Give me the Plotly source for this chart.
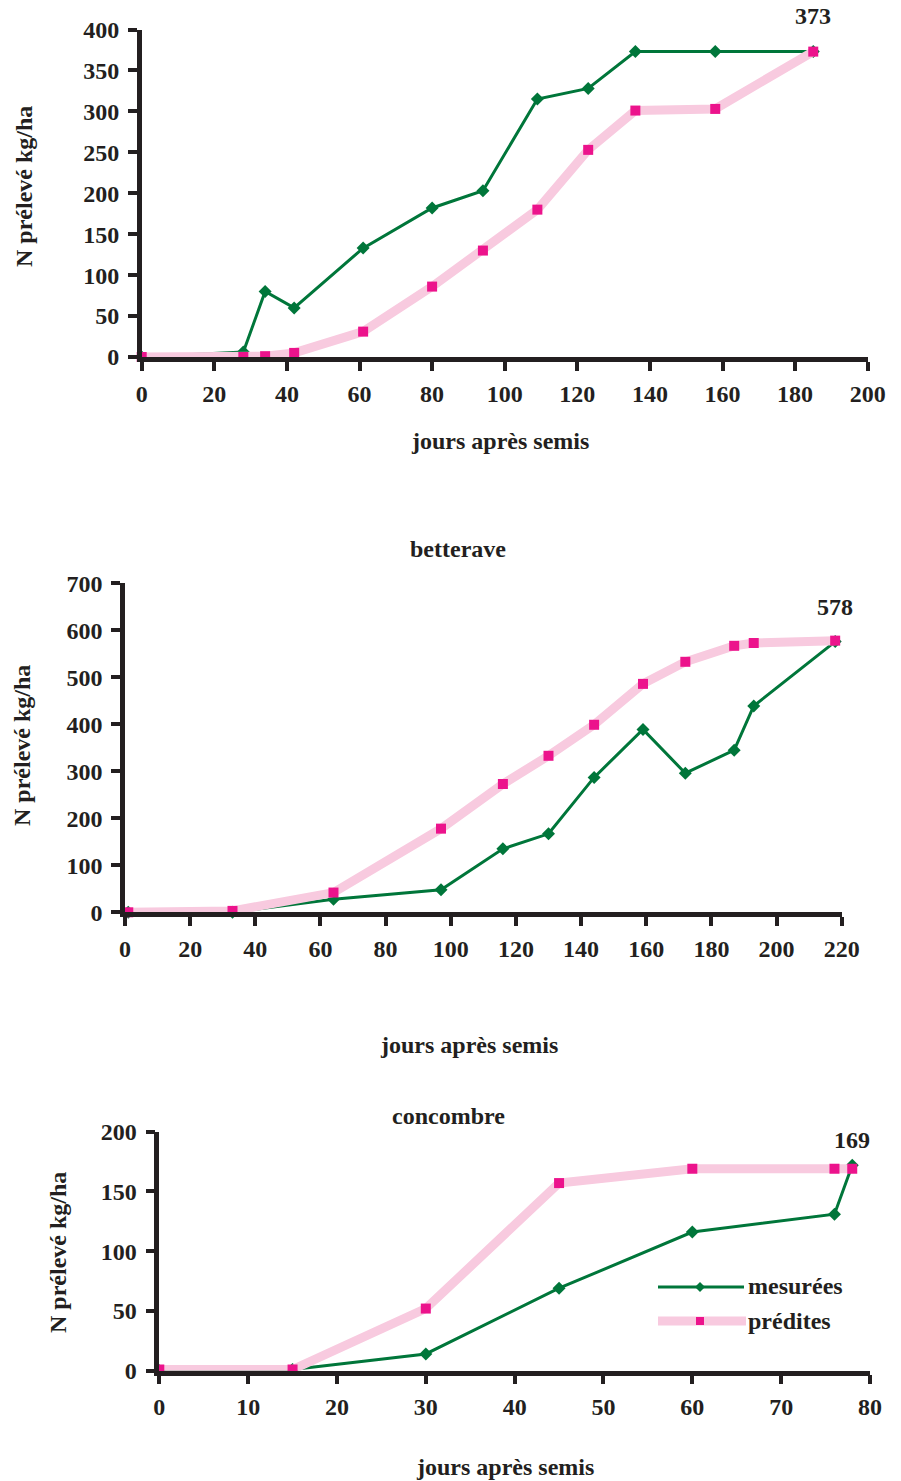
import plotly.graph_objects as go

# ---- data: N uptake (kg/ha) vs days after sowing ----
# panel 1 (untitled crop)
p1_mes_x = [0, 28, 34, 42, 61, 80, 94, 109, 123, 136, 158, 185]
p1_mes_y = [0, 6, 80, 60, 133, 182, 203, 315, 328, 373, 373, 373]
p1_pre_x = [0, 28, 34, 42, 61, 80, 94, 109, 123, 136, 158, 185]
p1_pre_y = [0, 0, 1, 5, 31, 86, 130, 180, 253, 301, 303, 373]

# betterave
bet_mes_x = [1, 33, 64, 97, 116, 130, 144, 159, 172, 187, 193, 218]
bet_mes_y = [0, 0, 28, 48, 135, 167, 287, 389, 296, 345, 439, 576]
bet_pre_x = [1, 33, 64, 97, 116, 130, 144, 159, 172, 187, 193, 218]
bet_pre_y = [0, 3, 42, 178, 273, 333, 399, 486, 533, 567, 573, 578]

# concombre
con_mes_x = [0, 15, 30, 45, 60, 76, 78]
con_mes_y = [0, 1, 14, 69, 116, 131, 172]
con_pre_x = [0, 15, 30, 45, 60, 76, 78]
con_pre_y = [1, 1, 52, 157, 169, 169, 169]

# axis ticks
p1_xticks = list(range(0, 201, 20))
p1_yticks = list(range(0, 401, 50))
bet_xticks = list(range(0, 221, 20))
bet_yticks = list(range(0, 701, 100))
con_xticks = list(range(0, 81, 10))
con_yticks = list(range(0, 201, 50))

# ---- styling ----
W, H = 901, 1481
FONT = "Liberation Serif"
TXT = "#231F20"
GREEN = "#00763A"
PINK_LINE = "#F8CADF"
PINK_MARK = "#EC138C"
FS = 24
BFONT = dict(family=FONT, size=FS, color=TXT, weight="bold")


def fx(p):
    return p / W


def fy(p):
    return 1 - p / H


fig = go.Figure()

panels = [
    dict(ax="", mx=p1_mes_x, my=p1_mes_y, px=p1_pre_x, py=p1_pre_y,
         xt=p1_xticks, yt=p1_yticks, xr=[0, 200], yr=[0, 400],
         dom_x=(141.7, 867.7), dom_y=(357, 29.5), lbl_shift=36),
    dict(ax="2", mx=bet_mes_x, my=bet_mes_y, px=bet_pre_x, py=bet_pre_y,
         xt=bet_xticks, yt=bet_yticks, xr=[0, 220], yr=[0, 700],
         dom_x=(125, 841.7), dom_y=(912.3, 583.3), lbl_shift=34),
    dict(ax="3", mx=con_mes_x, my=con_mes_y, px=con_pre_x, py=con_pre_y,
         xt=con_xticks, yt=con_yticks, xr=[0, 80], yr=[0, 200],
         dom_x=(159.3, 870), dom_y=(1370.7, 1131.7), lbl_shift=29),
]

annotations = []
layout_axes = {}

for p in panels:
    xa = "x" + p["ax"]
    ya = "y" + p["ax"]
    fig.add_trace(go.Scatter(
        x=p["mx"], y=p["my"], xaxis=xa, yaxis=ya, mode="lines+markers",
        name="mesurées", showlegend=False, cliponaxis=False,
        line=dict(color=GREEN, width=3),
        marker=dict(symbol="diamond", size=10, color=GREEN)))
    fig.add_trace(go.Scatter(
        x=p["px"], y=p["py"], xaxis=xa, yaxis=ya, mode="lines+markers",
        name="prédites", showlegend=False, cliponaxis=False,
        line=dict(color=PINK_LINE, width=9),
        marker=dict(symbol="square", size=10, color=PINK_MARK)))

    common = dict(showgrid=False, zeroline=False, showline=True,
                  linecolor=TXT, linewidth=4.5, ticks="outside", ticklen=9,
                  tickwidth=4, tickcolor=TXT, automargin=False,
                  tickfont=BFONT)
    layout_axes["xaxis" + p["ax"]] = dict(
        common, range=p["xr"], tickvals=p["xt"], anchor=ya,
        domain=[fx(p["dom_x"][0]), fx(p["dom_x"][1])], ticklabelstandoff=2)
    layout_axes["yaxis" + p["ax"]] = dict(
        common, range=p["yr"], tickvals=p["yt"], anchor=xa,
        domain=[fy(p["dom_y"][0]), fy(p["dom_y"][1])], ticklabelstandoff=4)

    # end value label above the last predicted point
    annotations.append(dict(
        x=p["px"][-1], y=p["py"][-1], xref=xa, yref=ya,
        text=str(p["py"][-1]), showarrow=False, yshift=p["lbl_shift"],
        font=BFONT))


def txt(x, y, s, angle=0, xanchor="center"):
    annotations.append(dict(
        x=fx(x), y=fy(y), xref="paper", yref="paper", text=s,
        showarrow=False, textangle=angle, xanchor=xanchor, yanchor="middle",
        font=BFONT))


# axis titles and panel titles
txt(500, 441, "jours après semis")
txt(24, 187, "N prélevé kg/ha", angle=-90)
txt(458, 549, "betterave")
txt(469, 1045, "jours après semis")
txt(22, 746, "N prélevé kg/ha", angle=-90)
txt(448, 1116, "concombre")
txt(505, 1467, "jours après semis")
txt(58, 1252, "N prélevé kg/ha", angle=-90)

# legend key
txt(746, 1286, "mesurées", xanchor="left")
txt(746, 1321, "prédites", xanchor="left")

shapes = [
    dict(type="line", xref="paper", yref="paper",
         x0=fx(658), x1=fx(744), y0=fy(1287), y1=fy(1287),
         line=dict(color=GREEN, width=3)),
    dict(type="path", xref="paper", yref="paper",
         path=f"M {fx(700)} {fy(1282)} L {fx(705)} {fy(1287)} L {fx(700)} {fy(1292)} L {fx(695)} {fy(1287)} Z",
         fillcolor=GREEN, line=dict(width=0)),
    dict(type="line", xref="paper", yref="paper",
         x0=fx(658), x1=fx(746), y0=fy(1321), y1=fy(1321),
         line=dict(color=PINK_LINE, width=9)),
    dict(type="rect", xref="paper", yref="paper",
         x0=fx(696), x1=fx(704), y0=fy(1325), y1=fy(1317),
         fillcolor=PINK_MARK, line=dict(width=0)),
]

fig.update_layout(
    width=W, height=H,
    margin=dict(l=0, r=0, t=0, b=0, pad=0, autoexpand=False),
    paper_bgcolor="white", plot_bgcolor="white",
    showlegend=False, annotations=annotations, shapes=shapes,
    **layout_axes)

fig.write_html("out.html")
